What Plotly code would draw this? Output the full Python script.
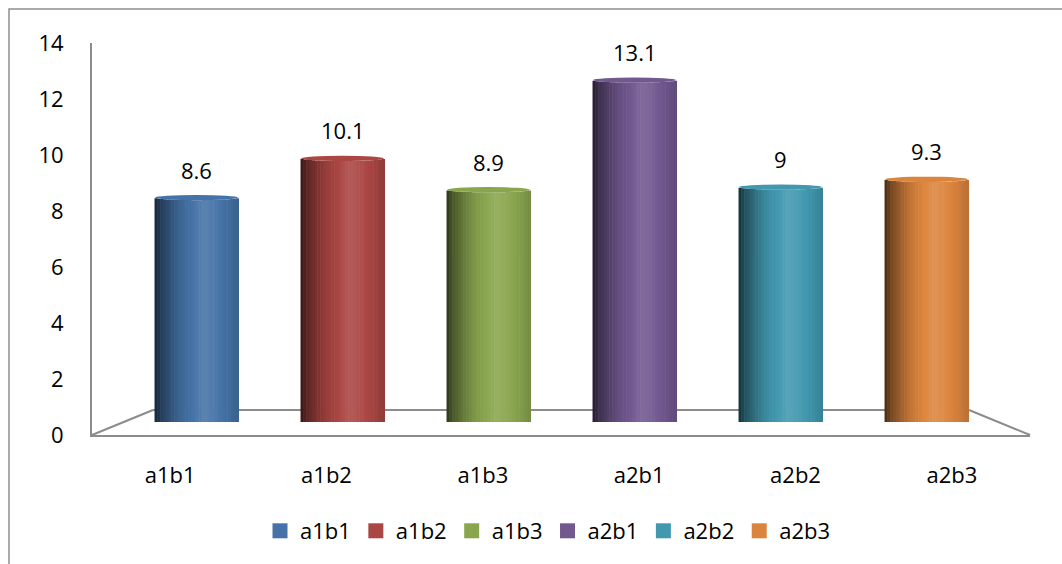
import plotly.graph_objects as go

categories = ["a1b1", "a1b2", "a1b3", "a2b1", "a2b2", "a2b3"]
values = [8.6, 10.1, 8.9, 13.1, 9.0, 9.3]
value_labels = ["8.6", "10.1", "8.9", "13.1", "9", "9.3"]
y_ticks = [0, 2, 4, 6, 8, 10, 12, 14]
base_colors = ["#4572A7", "#AA4643", "#89A54E", "#71588F", "#4198AF", "#DB843D"]

W, H = 1062, 564
FONT = "Open Sans, Liberation Sans, sans-serif"
FS = 22


def px_x(p):
    return p / W


def px_y(p):
    return 1 - p / H


def hex_rgb(h):
    h = h.lstrip("#")
    return [int(h[i:i + 2], 16) for i in (0, 2, 4)]


def shade(h, f):
    r = hex_rgb(h)
    if f <= 1:
        c = [v * f for v in r]
    else:
        c = [v + (255 - v) * (f - 1) for v in r]
    return "rgb(%d,%d,%d)" % tuple(max(0, min(255, round(v))) for v in c)


# cylinder lighting profile across the bar width
prof_t = [0.0, 0.08, 0.3, 0.6, 0.8, 1.0]
prof_f = [0.32, 0.55, 0.88, 1.12, 1.0, 0.85]


def profile(t):
    for i in range(len(prof_t) - 1):
        if prof_t[i] <= t <= prof_t[i + 1]:
            a = (t - prof_t[i]) / (prof_t[i + 1] - prof_t[i])
            return prof_f[i] + a * (prof_f[i + 1] - prof_f[i])
    return prof_f[-1]


BAR_W = 0.575
N = 30
D_BOT = 0.16   # half-height of the bottom ellipse (value units)
D_TOP = 0.10   # half-height of the top ellipse (value units)

fig = go.Figure()

# legend entries
for c, col in zip(categories, base_colors):
    fig.add_trace(go.Scatter(
        x=[None], y=[None], name=c, mode="markers",
        marker=dict(symbol="square", size=15, color=col),
        xaxis="x", yaxis="y2", showlegend=True, hoverinfo="skip",
    ))

# cylinder bodies drawn as shaded vertical strips
for j in range(N):
    t = (j + 0.5) / N
    off = -BAR_W / 2 + j * BAR_W / N
    u = 2 * t - 1
    k = max(0.0, 1 - u * u) ** 0.5
    db = D_BOT * k
    dt = D_TOP * k
    fig.add_trace(go.Bar(
        x=categories, y=[v - dt + db for v in values], base=[-db] * len(values),
        width=[BAR_W / N * 1.2] * len(categories),
        offset=[off] * len(categories),
        marker=dict(color=[shade(col, profile(t)) for col in base_colors], line=dict(width=0)),
        xaxis="x", yaxis="y2", showlegend=False, hoverinfo="skip",
    ))

# invisible trace for the front (label) axis
fig.add_trace(go.Scatter(x=[0], y=[0], xaxis="x2", yaxis="y", mode="markers",
                         marker=dict(opacity=0), showlegend=False, hoverinfo="skip"))

shapes = []
# top faces of the cylinders
for i, (v, col) in enumerate(zip(values, base_colors)):
    shapes.append(dict(type="circle", xref="x", yref="y2",
                       x0=i - BAR_W / 2 + 0.004, x1=i + BAR_W / 2 - 0.004,
                       y0=v - D_TOP, y1=v + D_TOP,
                       fillcolor=shade(col, 1.0), line=dict(width=0), layer="above"))

grey = "#8c8c8c"
# floor (back edge and sides)
shapes.append(dict(type="line", xref="paper", yref="paper", x0=px_x(153), y0=px_y(410),
                   x1=px_x(969), y1=px_y(410), line=dict(color=grey, width=2), layer="below"))
shapes.append(dict(type="line", xref="paper", yref="paper", x0=px_x(92), y0=px_y(435),
                   x1=px_x(153), y1=px_y(410), line=dict(color=grey, width=2), layer="below"))
shapes.append(dict(type="line", xref="paper", yref="paper", x0=px_x(1030), y0=px_y(435),
                   x1=px_x(969), y1=px_y(410), line=dict(color=grey, width=2), layer="below"))
# outer chart border
shapes.append(dict(type="rect", xref="paper", yref="paper", x0=px_x(9), y0=px_y(580),
                   x1=px_x(1080), y1=px_y(9), line=dict(color="#8f8f8f", width=1.5)))

annotations = []
for c, v, lab in zip(categories, values, value_labels):
    annotations.append(dict(x=c, y=v, xref="x", yref="y2", text=lab, showarrow=False,
                            yanchor="bottom", yshift=11, font=dict(size=FS, color="black", family=FONT)))

fig.update_layout(
    width=W, height=H,
    margin=dict(l=0, r=0, t=0, b=0, autoexpand=False),
    paper_bgcolor="white", plot_bgcolor="rgba(0,0,0,0)",
    barmode="overlay",
    font=dict(family=FONT, size=FS, color="black"),
    xaxis=dict(domain=[px_x(123.5), px_x(999.5)], type="category", categoryarray=categories,
               range=[-0.5, 5.5], showticklabels=False, showline=False, showgrid=False,
               zeroline=False, anchor="y2"),
    xaxis2=dict(domain=[px_x(92), px_x(1030)], range=[-0.5, 5.5], tickvals=list(range(6)),
                ticktext=categories, showline=True, linecolor=grey, linewidth=2, showgrid=False,
                zeroline=False, ticks="", ticklabelstandoff=20, anchor="y"),
    yaxis=dict(domain=[px_y(435), px_y(43)], range=[0, 14], tickvals=y_ticks, showgrid=False,
               zeroline=False, showline=True, linecolor=grey, linewidth=2, ticks="",
               ticklabelstandoff=22, anchor="x2"),
    # depth-plane scale used by the cylinders (mid-depth of the floor)
    yaxis2=dict(domain=[px_y(422), px_y(56.6)], range=[0, 14], showgrid=False, zeroline=False,
                showline=False, showticklabels=False, anchor="x"),
    legend=dict(orientation="h", x=px_x(548), xanchor="center", y=px_y(531), yanchor="middle",
                font=dict(size=FS, family=FONT), bgcolor="rgba(0,0,0,0)"),
    shapes=shapes,
    annotations=annotations,
    showlegend=True,
)

fig.write_html("out.html")
